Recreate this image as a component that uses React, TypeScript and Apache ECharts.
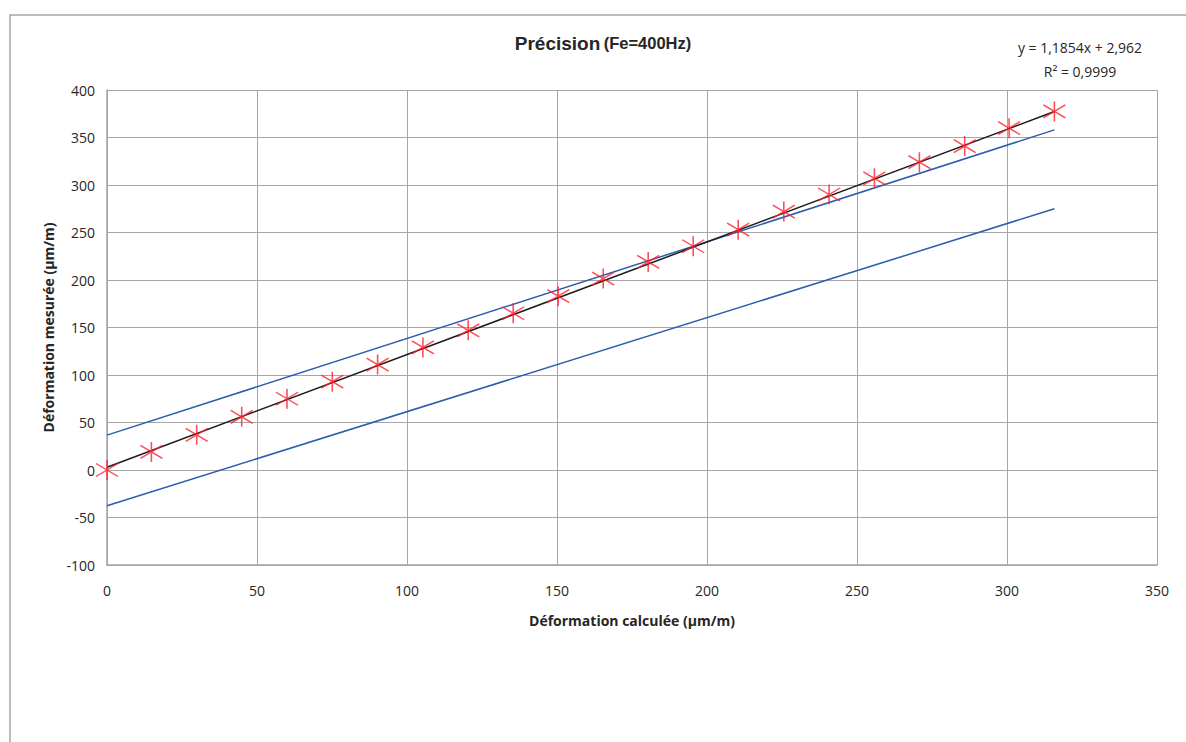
import React, { useEffect, useRef } from "react";
import * as echarts from "echarts";

const xCalc = [0, 14.8, 29.9, 44.9, 60, 75.1, 90.2, 105.3, 120.4, 135.4, 150.4, 165.4, 180.4, 195.4, 210.4, 225.6, 240.7, 255.8, 270.8, 285.9, 300.7, 315.8];
const yMeas = [0, 19, 37, 56, 75, 93, 111, 129, 147, 165, 183, 201.5, 219, 235.5, 253, 272, 290, 307, 324, 341, 359.8, 377.4];
const trendLine = [[0, 2.962], [315.8, 377.3]];
const upperLine = [[0, 36.7], [315.8, 358]];
const lowerLine = [[0, -37.6], [315.8, 275]];
const titleMain = "Précision";
const titleSub = "(Fe=400Hz)";
const equation = "y = 1,1854x + 2,962";
const rSquared = "R² = 0,9999";
const xName = "Déformation calculée (µm/m)";
const yName = "Déformation mesurée (µm/m)";

const FONT = "'Open Sans', 'Liberation Sans', sans-serif";
const TITLE_FONT = "'Liberation Sans', Arial, sans-serif";

export default function App() {
  const ref = useRef<HTMLDivElement>(null);
  useEffect(() => {
    const chart = echarts.init(ref.current!, undefined, { renderer: "svg" });
    const points = xCalc.map((x, i) => [x, yMeas[i]]);
    chart.setOption({
      animation: false,
      backgroundColor: "#ffffff",
      textStyle: { fontFamily: FONT },
      graphic: [
        {
          type: "rect",
          shape: { x: 10, y: 15, width: 1200, height: 760 },
          style: { fill: "none", stroke: "#a6a6a6", lineWidth: 1.5 },
          silent: true,
        },
        {
          type: "text",
          x: 603,
          y: 43,
          style: {
            text: `{a|${titleMain}} {b|${titleSub}}`,
            align: "center",
            verticalAlign: "middle",
            rich: {
              a: { fontSize: 19, fontWeight: "bold", fill: "#262626", fontFamily: TITLE_FONT },
              b: { fontSize: 16.5, fontWeight: "bold", fill: "#262626", fontFamily: TITLE_FONT },
            },
          },
        },
        {
          type: "text",
          x: 1080,
          y: 47,
          style: { text: equation, align: "center", verticalAlign: "middle", fontSize: 14, fill: "#262626", fontFamily: FONT },
        },
        {
          type: "text",
          x: 1080,
          y: 71,
          style: { text: rSquared, align: "center", verticalAlign: "middle", fontSize: 14, fill: "#262626", fontFamily: FONT },
        },
      ],
      grid: { left: 107, top: 90, width: 1050, height: 475, containLabel: false },
      xAxis: {
        type: "value",
        min: 0,
        max: 350,
        interval: 50,
        name: xName,
        nameLocation: "middle",
        nameGap: 48,
        nameTextStyle: { fontSize: 14, fontWeight: "bold", color: "#262626", fontFamily: FONT },
        axisLine: { show: true, onZero: false, lineStyle: { color: "#a6a6a6", width: 1.5 } },
        axisTick: { show: false },
        axisLabel: { fontSize: 14, color: "#262626", margin: 18, fontFamily: FONT },
        splitLine: { show: true, lineStyle: { color: "#a6a6a6", width: 1 } },
      },
      yAxis: {
        type: "value",
        min: -100,
        max: 400,
        interval: 50,
        name: yName,
        nameLocation: "middle",
        nameGap: 50,
        nameRotate: 90,
        nameTextStyle: { fontSize: 14, fontWeight: "bold", color: "#262626", fontFamily: FONT },
        axisLine: { show: true, onZero: false, lineStyle: { color: "#a6a6a6", width: 1.5 } },
        axisTick: { show: false },
        axisLabel: { fontSize: 14, color: "#262626", margin: 12, fontFamily: FONT },
        splitLine: { show: true, lineStyle: { color: "#a6a6a6", width: 1 } },
      },
      series: [
        {
          type: "line",
          data: upperLine,
          showSymbol: false,
          lineStyle: { color: "#2c5cab", width: 1.5 },
          z: 2,
        },
        {
          type: "line",
          data: lowerLine,
          showSymbol: false,
          lineStyle: { color: "#2c5cab", width: 1.5 },
          z: 2,
        },
        {
          type: "line",
          data: trendLine,
          showSymbol: false,
          lineStyle: { color: "#1a1a1a", width: 1.5 },
          z: 3,
        },
        {
          type: "scatter",
          data: points,
          symbol: "path://M10,0L10,20M0,3.5L20,16.5M0,16.5L20,3.5",
          symbolSize: [22, 20],
          itemStyle: { color: "rgba(0,0,0,0)", borderColor: "#ff1f2d", borderWidth: 1.5 },
          z: 4,
        },
      ],
    });
    return () => chart.dispose();
  }, []);
  return (
    <div
      ref={ref}
      style={{ position: "fixed", left: 0, top: 0, width: 1186, height: 742, background: "#fff" }}
    />
  );
}
